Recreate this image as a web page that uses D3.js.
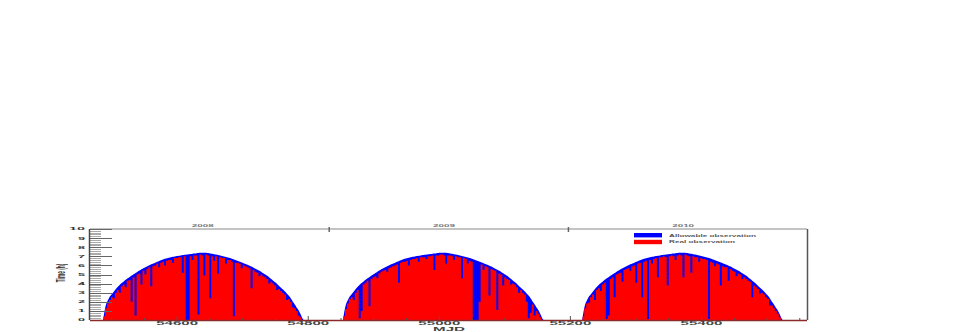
<!DOCTYPE html>
<html>
<head>
<meta charset="utf-8">
<script src="https://cdn.jsdelivr.net/npm/d3@7"></script>
<style>
  html, body { margin: 0; padding: 0; background: #fff; }
  svg { display: block; font-family: "Liberation Sans", Arial, sans-serif; }
</style>
</head>
<body>
<script>
// ---------------- DATA (3-day bins, hours per bin) ----------------
const binDays = 3;
const seasonStartMJD = [54487, 54853, 55218];
const seasonNames = ["2008", "2009", "2010"];

const allowable2008 = [0.7,1.7,2.2,2.6,2.87,3.13,3.4,3.65,3.88,4.06,4.24,4.42,4.58,4.72,4.88,5.02,5.16,5.3,5.43,5.57,5.69,5.8,5.91,6.02,6.12,6.21,6.3,6.4,6.49,6.57,6.64,6.72,6.78,6.83,6.89,6.94,6.99,7.03,7.07,7.1,7.13,7.17,7.2,7.23,7.26,7.29,7.31,7.34,7.36,7.38,7.39,7.4,7.38,7.35,7.31,7.28,7.23,7.19,7.15,7.1,7.04,6.98,6.92,6.87,6.8,6.72,6.64,6.56,6.48,6.4,6.32,6.24,6.15,6.06,5.97,5.87,5.75,5.63,5.52,5.4,5.28,5.14,5.0,4.85,4.68,4.5,4.32,4.14,3.96,3.75,3.55,3.34,3.13,2.89,2.66,2.35,2.0,1.7,1.35,1.05,0.6,0.15];
const allowable2009 = [0.7,1.7,2.2,2.6,2.87,3.13,3.4,3.65,3.88,4.06,4.24,4.42,4.58,4.72,4.88,5.02,5.16,5.3,5.43,5.57,5.69,5.8,5.91,6.02,6.12,6.21,6.3,6.4,6.49,6.57,6.64,6.72,6.78,6.83,6.89,6.94,6.99,7.03,7.07,7.1,7.13,7.17,7.2,7.23,7.26,7.29,7.31,7.34,7.36,7.38,7.39,7.4,7.38,7.35,7.31,7.28,7.23,7.19,7.15,7.1,7.04,6.98,6.92,6.87,6.8,6.72,6.64,6.56,6.48,6.4,6.32,6.24,6.15,6.06,5.97,5.87,5.75,5.63,5.52,5.4,5.28,5.14,5.0,4.85,4.68,4.5,4.32,4.14,3.96,3.75,3.55,3.34,3.13,2.89,2.66,2.35,2.0,1.7,1.35,1.05,0.6,0.15];
const allowable2010 = [0.7,1.7,2.2,2.6,2.87,3.13,3.4,3.65,3.88,4.06,4.24,4.42,4.58,4.72,4.88,5.02,5.16,5.3,5.43,5.57,5.69,5.8,5.91,6.02,6.12,6.21,6.3,6.4,6.49,6.57,6.64,6.72,6.78,6.83,6.89,6.94,6.99,7.03,7.07,7.1,7.13,7.17,7.2,7.23,7.26,7.29,7.31,7.34,7.36,7.38,7.39,7.4,7.38,7.35,7.31,7.28,7.23,7.19,7.15,7.1,7.04,6.98,6.92,6.87,6.8,6.72,6.64,6.56,6.48,6.4,6.32,6.24,6.15,6.06,5.97,5.87,5.75,5.63,5.52,5.4,5.28,5.14,5.0,4.85,4.68,4.5,4.32,4.14,3.96,3.75,3.55,3.34,3.13,2.89,2.66,2.35,2.0,1.7,1.35,1.05,0.6,0.15];

const real2008 = [0.4,1.3,1.8,2.2,2.5,2.4,3.0,3.3,3.0,3.7,3.9,3.6,4.3,4.4,2.0,4.7,0.5,5.0,5.1,3.9,5.4,5.0,5.6,5.8,3.7,5.9,6.0,6.2,5.8,6.3,6.4,6.0,6.5,6.6,6.6,6.3,6.8,6.8,6.9,6.9,5.2,7.0,0,0,7.0,6.6,7.1,7.1,0.6,7.2,7.1,4.9,7.2,7.1,2.4,7.0,6.5,7.0,5.1,6.9,6.8,6.8,6.2,6.6,6.6,6.4,0.4,6.3,6.3,6.2,5.7,6.0,5.9,5.8,5.7,3.5,5.5,5.3,5.2,4.8,5.0,4.8,4.7,4.5,4.0,4.2,4.0,3.8,3.3,3.4,3.2,3.0,2.8,2.2,2.3,2.0,1.4,1.3,1.0,0.5,0.3,0];
const real2009 = [0.4,1.2,1.8,2.3,2.5,2.2,3.0,3.3,0.2,1.0,3.9,4.1,4.3,1.5,4.5,4.7,4.8,4.6,5.1,5.3,5.4,5.5,5.3,5.7,5.8,5.9,6.0,6.1,4.1,6.3,6.4,6.4,6.5,6.0,6.6,6.7,6.7,6.8,6.4,6.9,6.9,6.9,6.7,7.0,7.0,7.1,5.5,7.1,7.1,7.2,7.2,7.1,6.2,7.1,7.1,7.0,6.6,7.0,6.9,6.9,4.6,6.8,6.7,6.2,6.5,6.4,0,0,0,2.0,6.1,5.5,5.9,5.8,2.7,5.6,5.5,5.4,1.1,5.1,5.0,3.8,4.7,4.5,4.4,3.9,4.0,3.9,3.6,3.0,3.3,3.0,2.8,2.0,0.2,0.8,1.7,0.5,1.0,0.7,0.3,0];
const real2010 = [0.4,1.3,1.8,1.9,2.5,2.8,2.2,3.3,3.5,3.2,3.9,4.1,0.1,0.5,4.5,4.7,2.5,5.0,5.1,5.2,4.2,5.5,5.6,5.7,5.4,5.9,6.0,4.1,6.2,6.3,2.5,6.4,6.5,0.1,6.6,6.2,6.7,6.8,4.7,6.9,6.9,7.0,6.9,3.8,7.0,7.1,7.0,6.6,7.1,7.2,7.1,4.7,7.2,7.1,7.0,5.2,7.0,6.9,6.9,6.4,6.8,6.7,6.7,6.6,0.1,6.4,6.3,5.9,6.2,6.1,3.8,5.9,5.8,5.8,4.3,5.6,5.4,5.3,4.8,5.1,5.0,4.5,4.7,4.5,4.3,4.2,2.5,3.8,3.6,3.4,2.9,3.0,2.8,2.5,2.3,1.6,1.6,1.3,1.0,0.7,0.3,0];

const allowableSeries = [allowable2008, allowable2009, allowable2010];
const realSeries = [real2008, real2009, real2010];

const xTickValues = [54600, 54800, 55000, 55200, 55400];
const yTickValues = [0,1,2,3,4,5,6,7,8,9,10];
const yearBoundaryMJD = [54832, 55197];
const yearLabelMJD = [54639, 55007, 55372];
const legendLabels = ["Allowable observation", "Real observation"];
const xTitle = "MJD";
const yTitle = "Time (h)";

// ---------------- DRAWING ----------------
(function () {
const W = 969, H = 332;
const pL = 90, pR = 807, pT = 229, pB = 320;

const svg = d3.select("body").append("svg").attr("width", W).attr("height", H);

const x = d3.scaleLinear().domain([54467, 55561]).range([pL, pR]);
const y = d3.scaleLinear().domain([0, 10]).range([pB, pT]);

function squashText(g, px, py, str, opts) {
  const o = Object.assign({size: 12, sy: 0.45, anchor: "middle", fill: "#444", weight: "normal", len: null, rotate: 0}, opts);
  const t = g.append("g")
    .attr("transform", `translate(${px},${py}) scale(1,${o.sy})` + (o.rotate ? ` rotate(${o.rotate})` : ""))
    .append("text")
    .attr("text-anchor", o.anchor)
    .attr("dominant-baseline", "central")
    .attr("font-size", o.size)
    .attr("font-weight", o.weight)
    .attr("fill", o.fill)
    .text(str);
  if (o.len) t.attr("textLength", o.len).attr("lengthAdjust", "spacingAndGlyphs");
  return t;
}

// Allowable: smooth envelope through bin centres
const envArea = d3.area()
  .x(p => x(p.d))
  .y0(y(0))
  .y1(p => y(p.v))
  .curve(d3.curveMonotoneX);
function envPoints(start, vals) {
  const pts = [{d: start, v: 0}];
  vals.forEach((v, i) => pts.push({d: start + (i + 0.5) * binDays, v}));
  pts.push({d: start + vals.length * binDays, v: 0});
  return pts;
}
// Real: per-bin steps
const stepArea = d3.area()
  .x(p => x(p.d))
  .y0(y(0))
  .y1(p => y(p.v))
  .curve(d3.curveStepAfter);
function stepPoints(start, vals) {
  const pts = vals.map((v, i) => ({d: start + i * binDays, v}));
  pts.push({d: start + vals.length * binDays, v: 0});
  return pts;
}

const defs = svg.append("defs");
const plot = svg.append("g");
seasonStartMJD.forEach((s, k) => {
  const dEnv = envArea(envPoints(s, allowableSeries[k]));
  defs.append("clipPath").attr("id", "env" + k).append("path").attr("d", dEnv);
  plot.append("path").attr("d", dEnv).attr("fill", "#0000ff");
  plot.append("path").attr("d", stepArea(stepPoints(s, realSeries[k])))
    .attr("fill", "#ff0000").attr("clip-path", `url(#env${k})`);
});

// Top axis (years)
svg.append("line").attr("x1", pL).attr("x2", pR).attr("y1", pT).attr("y2", pT)
  .attr("stroke", "#888").attr("stroke-width", 1);
yearBoundaryMJD.forEach(m => {
  svg.append("line").attr("x1", x(m)).attr("x2", x(m)).attr("y1", pT - 2).attr("y2", pT + 3)
    .attr("stroke", "#666").attr("stroke-width", 1.5);
});
yearLabelMJD.forEach((m, i) => {
  squashText(svg, x(m), 225.5, seasonNames[i], {size: 10, sy: 0.4, fill: "#777", weight: "bold", len: 22});
});

// Right frame
svg.append("line").attr("x1", pR + 0.5).attr("x2", pR + 0.5).attr("y1", pT).attr("y2", pB)
  .attr("stroke", "#555").attr("stroke-width", 1.5);

// Y axis
const minorY = d3.range(0, 10.001, 0.2).filter(v => Math.abs(v - Math.round(v)) > 1e-6);
svg.append("g").selectAll("line").data(minorY).join("line")
  .attr("x1", pL).attr("x2", pL + 11)
  .attr("y1", d => Math.round(y(d)) + 0.5).attr("y2", d => Math.round(y(d)) + 0.5)
  .attr("stroke", "#aaa").attr("stroke-width", 1);
svg.append("g").selectAll("line").data(yTickValues).join("line")
  .attr("x1", pL).attr("x2", pL + 22)
  .attr("y1", d => Math.round(y(d)) + 0.5).attr("y2", d => Math.round(y(d)) + 0.5)
  .attr("stroke", "#666").attr("stroke-width", 1);
svg.append("line").attr("x1", pL - 0.5).attr("x2", pL - 0.5).attr("y1", pT).attr("y2", pB)
  .attr("stroke", "#444").attr("stroke-width", 1.5);
yTickValues.forEach(v => {
  squashText(svg, 85, y(v), String(v), {size: 12, sy: 0.35, anchor: "end", fill: "#333", weight: "bold", len: v === 10 ? 16 : 7});
});
squashText(svg, 61, 273, yTitle, {size: 12, sy: 0.4, rotate: -90, fill: "#333", weight: "bold"});

// Bottom axis
svg.append("line").attr("x1", pL).attr("x2", pR).attr("y1", pB + 0.5).attr("y2", pB + 0.5)
  .attr("stroke", "#8c2a2a").attr("stroke-width", 1.5);
const minorX = d3.range(54500, 55561, 50);
svg.append("g").selectAll("line").data(minorX).join("line")
  .attr("x1", d => x(d)).attr("x2", d => x(d))
  .attr("y1", pB).attr("y2", d => pB - (d % 200 === 0 ? 4 : 2))
  .attr("stroke", "#555").attr("stroke-width", 1);
xTickValues.forEach(v => {
  squashText(svg, x(v), 322.8, String(v), {size: 14, sy: 0.4, fill: "#444", weight: "bold", len: 42});
});
squashText(svg, 449, 328.6, xTitle, {size: 14, sy: 0.4, fill: "#444", weight: "bold", len: 32});

// Legend
const legendColors = ["#0000ff", "#ff0000"];
const legendY = [235.2, 242];
legendLabels.forEach((lab, i) => {
  svg.append("rect").attr("x", 634).attr("y", legendY[i] - 2.2).attr("width", 28).attr("height", 4.4)
    .attr("fill", legendColors[i]);
  squashText(svg, 669, legendY[i], lab, {size: 9, sy: 0.45, anchor: "start", fill: "#555", weight: "bold", len: i === 0 ? 87 : 66});
});
})();
</script>
</body>
</html>
